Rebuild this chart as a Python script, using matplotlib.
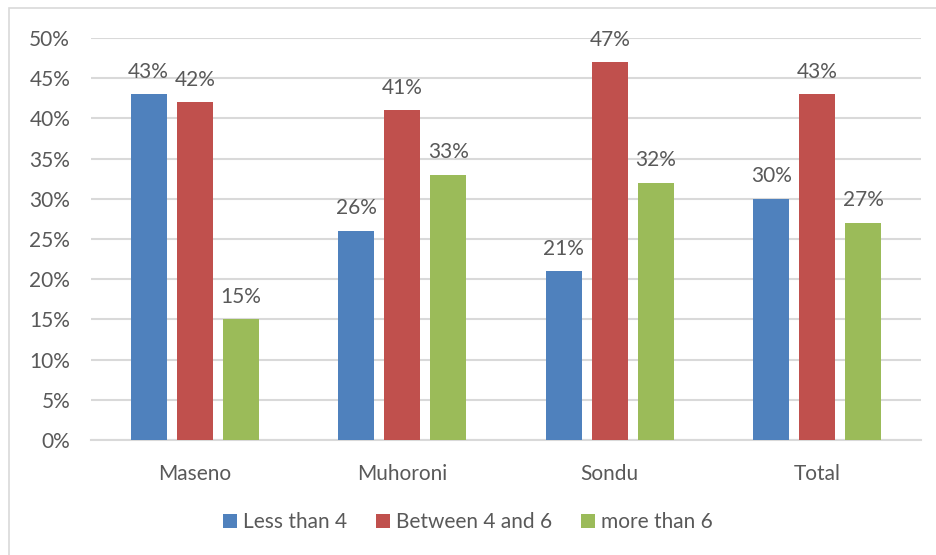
import numpy as np
import matplotlib.pyplot as plt
from matplotlib.patches import Rectangle

plt.rcParams['font.family'] = ['Lato', 'DejaVu Sans']

sites = ['Maseno', 'Muhoroni', 'Sondu', 'Total']
series = ['Less than 4', 'Between 4 and 6', 'more than 6']
less_than_4 = [43, 26, 21, 30]
between_4_6 = [42, 41, 47, 43]
more_than_6 = [15, 33, 32, 27]
yticks = [0, 5, 10, 15, 20, 25, 30, 35, 40, 45, 50]

colors = ['#4F81BD', '#C0504D', '#9BBB59']
text_color = '#595959'
grid_color = '#D9D9D9'

fig = plt.figure(figsize=(9.36, 5.55), dpi=100)
ax = fig.add_axes([91 / 936, 1 - 440 / 555, 830 / 936, 402 / 555])

# outer chart frame (only top and left edges fall inside the image)
fig.patches.append(Rectangle((9 / 936, -0.1), 1.2, 0.1 + (1 - 8 / 555),
                             transform=fig.transFigure, fill=False,
                             edgecolor=grid_color, linewidth=1.2))

x = np.arange(len(sites))
width = 0.173
step = 0.222
for i, (vals, name) in enumerate(zip([less_than_4, between_4_6, more_than_6], series)):
    bars = ax.bar(x + (i - 1) * step, vals, width, color=colors[i], label=name, zorder=3)
    for b, v in zip(bars, vals):
        ax.annotate(f'{v}%', (b.get_x() + b.get_width() / 2, v),
                    xytext=(0, 9), textcoords='offset points',
                    ha='center', va='bottom', fontsize=15, color=text_color)

ax.set_xlim(-0.5, len(sites) - 0.5)
ax.set_ylim(0, 50)
ax.set_yticks(yticks)
ax.set_yticklabels([f'{t}%' for t in yticks])
ax.set_xticks(x)
ax.set_xticklabels(sites)
ax.yaxis.grid(True, color=grid_color, linewidth=1.5, zorder=0)
for s in ['top', 'right', 'left']:
    ax.spines[s].set_visible(False)
ax.spines['bottom'].set_color(grid_color)
ax.spines['bottom'].set_linewidth(1.5)
ax.tick_params(axis='both', length=0, labelsize=15, colors=text_color)
ax.tick_params(axis='y', pad=15)
ax.tick_params(axis='x', pad=17)

fig.legend(loc='center', bbox_to_anchor=(0.5, 1 - 522 / 555), ncol=3,
           frameon=False, fontsize=15, labelcolor=text_color,
           handlelength=0.65, handleheight=0.65, handletextpad=0.3, columnspacing=1.4)

fig.savefig('out.png', dpi=100)
